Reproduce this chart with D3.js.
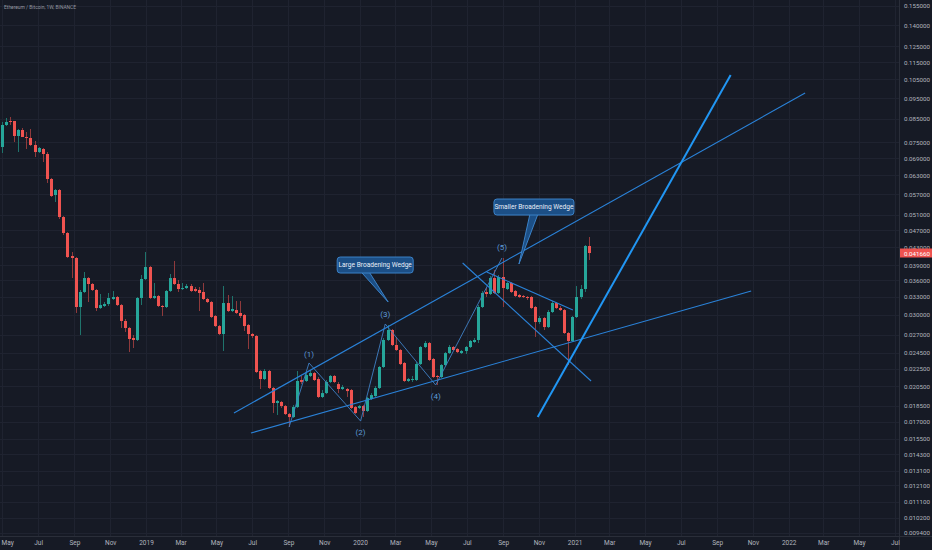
<!DOCTYPE html>
<html><head><meta charset="utf-8">
<script src="https://cdn.jsdelivr.net/npm/d3@7"></script>
<style>body{margin:0;background:#161a25;}svg{display:block;}</style>
</head><body><svg id="c" width="932" height="550"></svg>
<script>
// ---------------- DATA ----------------
const title = "Ethereum / Bitcoin, 1W, BINANCE";
const firstWeek = "2018-04-30"; // weekly bars (Monday opens)
const opens = [.07322,.08231,.08408,.08408,.07763,.08015,.07722,.07681,.07400,.07129,.07244,.07054,.06176,.05672,.05825,.05045,.04634,.04100,.04057,.03126,
.03386,.03647,.03533,.03422,.03109,.03143,.03176,.03262,.03297,.03159,.02902,.02796,.02651,.02623,.03279,.03628,.03867,.03279,.03314,.03143,
.03126,.03404,.03647,.03533,.03440,.03458,.03495,.03440,.03422,.03386,.03262,.03210,.02980,.02825,.02708,.03193,.03060,.03076,.03028,.02996,
.02841,.02708,.02679,.02224,.02131,.02224,.02032,.01876,.01886,.01846,.01769,.01741,.01836,.02120,.02109,.02166,.02200,.02131,.01937,.01978,
.02098,.02166,.02075,.02021,.02021,.02010,.01836,.01827,.01846,.01798,.01916,.01947,.02032,.02272,.02623,.02766,.02554,.02487,.02321,.02109,
.02120,.02120,.02308,.02527,.02581,.02371,.02166,.02154,.02296,.02447,.02527,.02500,.02447,.02474,.02527,.02595,.02623,.03126,.03386,.03350,
.03647,.03368,.03667,.03440,.03552,.03404,.03332,.03314,.03297,.03297,.03126,.02886,.02948,.02810,.03044,.03193,.03109,.03076,.02722,.02609,
.02964,.03297,.03440,.04324];
const highs = [.08363,.08543,.08588,.08408,.08057,.08100,.07930,.08057,.07559,.07322,.07283,.07129,.06209,.05856,.05856,.05072,.04658,.04188,.04078,.03422,
.03766,.03667,.03552,.03440,.03350,.03210,.03368,.03404,.03314,.03176,.02933,.02810,.02693,.03297,.03706,.04188,.03888,.03552,.03332,.03159,
.03422,.03726,.03993,.03609,.03552,.03533,.03533,.03477,.03477,.03552,.03279,.03227,.02996,.02841,.03495,.03332,.03314,.03227,.03227,.03012,
.02856,.02722,.02693,.02236,.02248,.02236,.02042,.01906,.01896,.01856,.01779,.01856,.02224,.02166,.02212,.02236,.02212,.02154,.02010,.02120,
.02177,.02177,.02098,.02064,.02032,.02021,.01846,.01856,.01856,.01937,.01978,.02053,.02284,.02651,.02841,.02781,.02665,.02500,.02333,.02143,
.02166,.02333,.02540,.02609,.02595,.02383,.02177,.02308,.02460,.02554,.02540,.02513,.02487,.02540,.02623,.02651,.03159,.03404,.03458,.03686,
.03806,.03706,.04057,.03570,.03570,.03422,.03350,.03332,.03314,.03314,.03143,.02980,.02964,.03076,.03227,.03210,.03143,.03093,.02737,.02980,
.03495,.03514,.04347,.04536];
const lows = [.07092,.08187,.08231,.07519,.07129,.07722,.07244,.07361,.06942,.07092,.06760,.06046,.05612,.05464,.04992,.04585,.04057,.03647,.03028,.02693,
.03368,.03210,.03404,.03060,.03093,.03126,.03143,.03245,.03143,.02796,.02737,.02460,.02513,.02609,.03159,.03609,.03262,.03262,.03126,.02980,
.03109,.03386,.03514,.03386,.03422,.03440,.03386,.03386,.03060,.03245,.03193,.02948,.02810,.02693,.02474,.03044,.03044,.03012,.02948,.02751,
.02500,.02651,.02200,.02021,.02120,.02021,.01779,.01760,.01827,.01760,.01651,.01732,.01827,.02075,.02098,.02154,.02109,.01926,.01926,.01968,
.02086,.02086,.01978,.02010,.01937,.01817,.01769,.01817,.01741,.01788,.01906,.01937,.02021,.02260,.02609,.02540,.02474,.02296,.02098,.02098,
.02098,.02109,.02296,.02513,.02345,.02143,.02064,.02143,.02284,.02434,.02474,.02447,.02434,.02434,.02513,.02581,.02581,.03109,.03297,.03332,
.03350,.03350,.03126,.03422,.03368,.03297,.03279,.03279,.03245,.03093,.02665,.02856,.02766,.02796,.03028,.03093,.03060,.02708,.02296,.02595,
.02948,.03262,.03386,.04014];
const closes = [.08231,.08363,.08363,.07763,.08015,.07722,.07681,.07400,.07129,.07283,.07054,.06176,.05642,.05825,.05045,.04634,.04078,.04057,.03126,.03386,
.03647,.03533,.03422,.03109,.03159,.03176,.03279,.03297,.03159,.02902,.02796,.02637,.02623,.03279,.03628,.03867,.03279,.03314,.03143,.03126,
.03404,.03647,.03533,.03440,.03458,.03495,.03404,.03404,.03368,.03262,.03210,.02964,.02825,.02708,.03193,.03060,.03093,.03028,.02980,.02825,
.02708,.02679,.02212,.02131,.02224,.02032,.01876,.01896,.01846,.01769,.01741,.01836,.02109,.02098,.02177,.02200,.02120,.01937,.01978,.02098,
.02166,.02098,.02021,.02042,.01999,.01827,.01779,.01846,.01798,.01926,.01957,.02032,.02272,.02623,.02766,.02554,.02487,.02308,.02109,.02131,
.02131,.02308,.02527,.02581,.02358,.02154,.02154,.02296,.02447,.02527,.02487,.02460,.02474,.02527,.02609,.02623,.03126,.03368,.03350,.03647,
.03368,.03667,.03458,.03552,.03386,.03314,.03297,.03297,.03279,.03109,.02886,.02948,.02810,.03044,.03193,.03109,.03076,.02722,.02609,.02964,
.03297,.03440,.04324,.04166];

const priceTicks = [0.155,0.14,0.125,0.115,0.105,0.095,0.085,0.075,0.069,0.063,0.057,0.051,0.047,0.043,0.039,0.036,0.033,0.030,0.027,0.0245,0.0225,0.0205,0.0185,0.017,0.0155,0.0143,0.0131,0.0121,0.0111,0.0102,0.0094];
const timeTicks = ["2018-05-01","2018-07-01","2018-09-01","2018-11-01","2019-01-01","2019-03-01","2019-05-01","2019-07-01","2019-09-01","2019-11-01","2020-01-01","2020-03-01","2020-05-01","2020-07-01","2020-09-01","2020-11-01","2021-01-01","2021-03-01","2021-05-01","2021-07-01","2021-09-01","2021-11-01","2022-01-01","2022-03-01","2022-05-01","2022-07-01"];
const timeTickLabels = ["May","Jul","Sep","Nov","2019","Mar","May","Jul","Sep","Nov","2020","Mar","May","Jul","Sep","Nov","2021","Mar","May","Jul","Sep","Nov","2022","Mar","May","Jul"];

// trend lines: [startDate, startPrice, endDate, endPrice]
const wedgeLines = [
  ["2019-05-31",0.01779,"2022-01-29",0.09758],   // large wedge upper
  ["2019-06-29",0.01599,"2021-10-29",0.03404],   // large wedge lower
  ["2020-06-24",0.03950,"2021-01-29",0.02109],   // smaller wedge lower
  ["2020-08-04",0.03766,"2020-12-29",0.03076]    // smaller wedge upper
];
const steepLine = ["2020-10-30",0.01741,"2021-09-24",0.10739];
const waveDates = ["2019-09-02","2019-10-06","2020-01-02","2020-02-13","2020-05-09","2020-08-30"];
const wavePrices = [0.01651,0.02321,0.01704,0.02856,0.02064,0.04057];
const waveLabels = ["","(1)","(2)","(3)","(4)","(5)"];
const callouts = [
  {text:"Large Broadening Wedge", date:"2020-02-18", price:0.03210},
  {text:"Smaller Broadening Wedge", date:"2020-09-28", price:0.03929}
];

// ---------------- DRAW ----------------
const W=932,H=550, axisX=899, axisY=536;
const FONT="Roboto, 'Liberation Sans', sans-serif";
const svg=d3.select("#c");
const P=d3.utcParse("%Y-%m-%d");
const bg="#161a25", grid="#1f2330", txt="#b2b5be";
svg.append("rect").attr("width",W).attr("height",H).attr("fill",bg);

const x=d3.scaleUtc().domain([P("2019-01-01"),P("2022-01-01")]).range([146,146+1096*0.5864]);
const y=d3.scaleLog().domain([0.0094,0.155]).range([6+188*Math.log(0.155/0.0094),6]);

// grid
const g=svg.append("g");
g.selectAll("line.h").data(priceTicks).join("line")
  .attr("x1",0).attr("x2",axisX).attr("y1",d=>Math.round(y(d))+0.5).attr("y2",d=>Math.round(y(d))+0.5)
  .attr("stroke",grid).attr("stroke-width",1);
g.selectAll("line.v").data(timeTicks).join("line")
  .attr("y1",0).attr("y2",axisY).attr("x1",d=>Math.round(x(P(d)))+0.5).attr("x2",d=>Math.round(x(P(d)))+0.5)
  .attr("stroke",grid).attr("stroke-width",1);

// title
svg.append("text").attr("x",4).attr("y",9).attr("fill","#9598a1")
  .attr("font-family",FONT).attr("font-size",4.9).text(title);

// candles
const bars=opens.map((o,i)=>({d:d3.utcMonday.offset(P(firstWeek),i),o,h:highs[i],l:lows[i],c:closes[i]}));
const cg=svg.append("g");
bars.forEach(b=>{
  const cx=Math.round(x(b.d));
  const up=b.c>=b.o;
  cg.append("line").attr("x1",cx+0.5).attr("x2",cx+0.5).attr("y1",y(b.h)).attr("y2",y(b.l))
    .attr("stroke",up?"#1f746c":"#8f3a3c").attr("stroke-width",1);
  const t=y(Math.max(b.o,b.c)), bt=y(Math.min(b.o,b.c));
  cg.append("rect").attr("x",cx-1).attr("width",3).attr("y",t).attr("height",Math.max(1,bt-t))
    .attr("fill",up?"#26a69a":"#ef5350");
});

// wave zigzag
const ag=svg.append("g");
const wpts=waveDates.map((d,i)=>[x(P(d)),y(wavePrices[i])]);
ag.append("path").attr("d",d3.line()(wpts)).attr("fill","none").attr("stroke","#3f7fc4").attr("stroke-width",1).attr("opacity",0.9);
const offs=[0,-9,11,-10,11,-11];
waveLabels.forEach((t,i)=>{ if(!t) return;
  ag.append("text").attr("x",wpts[i][0]).attr("y",wpts[i][1]+offs[i]).attr("dy","0.35em").attr("text-anchor","middle")
    .attr("fill","#5d9ad8").attr("font-family",FONT).attr("font-size",8).text(t);
});

// wedge lines
wedgeLines.forEach(l=>{
  ag.append("line").attr("x1",x(P(l[0]))).attr("y1",y(l[1])).attr("x2",x(P(l[2]))).attr("y2",y(l[3]))
    .attr("stroke","#2a82d8").attr("stroke-width",1.1);
});
ag.append("line").attr("x1",x(P(steepLine[0]))).attr("y1",y(steepLine[1])).attr("x2",x(P(steepLine[2]))).attr("y2",y(steepLine[3]))
  .attr("stroke","#2196f3").attr("stroke-width",2);

// callouts
const calloutGeom=[{dx:-51,dy:-45,w:76,h:16,tx0:-14,tx1:-6},{dx:-25,dy:-65,w:80,h:16,tx0:-4,tx1:4}];
callouts.forEach((c,i)=>{
  const tx=x(P(c.date)), ty=y(c.price), gm=calloutGeom[i];
  const bx=tx+gm.dx, by=ty+gm.dy;
  const cgp=ag.append("g");
  cgp.append("path").attr("d",`M${bx+gm.w/2+gm.tx0},${by+gm.h-1} L${tx},${ty} L${bx+gm.w/2+gm.tx1},${by+gm.h-1} Z`)
    .attr("fill","#1c4f86").attr("stroke","#3b82c8").attr("stroke-width",1);
  cgp.append("rect").attr("x",bx).attr("y",by).attr("width",gm.w).attr("height",gm.h).attr("rx",3)
    .attr("fill","#1c4f86").attr("stroke","#3b82c8").attr("stroke-width",1);
  cgp.append("text").attr("x",bx+gm.w/2).attr("y",by+gm.h/2).attr("dy","0.35em").attr("text-anchor","middle")
    .attr("fill","#e8eef7").attr("font-family",FONT).attr("font-size",6.6).text(c.text);
});

// axes panels
svg.append("rect").attr("x",axisX).attr("y",0).attr("width",W-axisX).attr("height",H).attr("fill",bg);
svg.append("rect").attr("x",0).attr("y",axisY).attr("width",W).attr("height",H-axisY).attr("fill",bg);
svg.append("line").attr("x1",axisX+0.5).attr("x2",axisX+0.5).attr("y1",0).attr("y2",H).attr("stroke","#2a2e39");
svg.append("line").attr("x1",0).attr("x2",W).attr("y1",axisY+0.5).attr("y2",axisY+0.5).attr("stroke","#2a2e39");

const ya=svg.append("g").attr("transform",`translate(${axisX},0)`)
  .call(d3.axisRight(y).tickValues(priceTicks).tickFormat(d3.format(".6f")).tickSize(0).tickPadding(5));
ya.select(".domain").remove();
ya.selectAll("text").attr("fill",txt).attr("font-size",6.2).attr("font-family",FONT);

const xa=svg.append("g").attr("transform",`translate(0,${axisY})`)
  .call(d3.axisBottom(x).tickValues(timeTicks.map(P)).tickFormat((d,i)=>timeTickLabels[i]).tickSize(0).tickPadding(4));
xa.select(".domain").remove();
xa.selectAll("text").attr("fill",txt).attr("font-size",6.5).attr("font-family",FONT);
// keep the edge label inside the picture
xa.selectAll(".tick").filter((d,i)=>i===0).select("text").attr("text-anchor","start").attr("x",-x(P(timeTicks[0]))+1);

// last price label
const last=closes[closes.length-1];
svg.append("rect").attr("x",axisX+1).attr("y",y(last)-4.5).attr("width",W-axisX-1).attr("height",9).attr("fill","#ef5350");
svg.append("text").attr("x",axisX+5).attr("y",y(last)+0.5).attr("dy","0.35em").attr("fill","#fff")
  .attr("font-size",6.2).attr("font-family",FONT).text(d3.format(".6f")(last));
</script></body></html>
